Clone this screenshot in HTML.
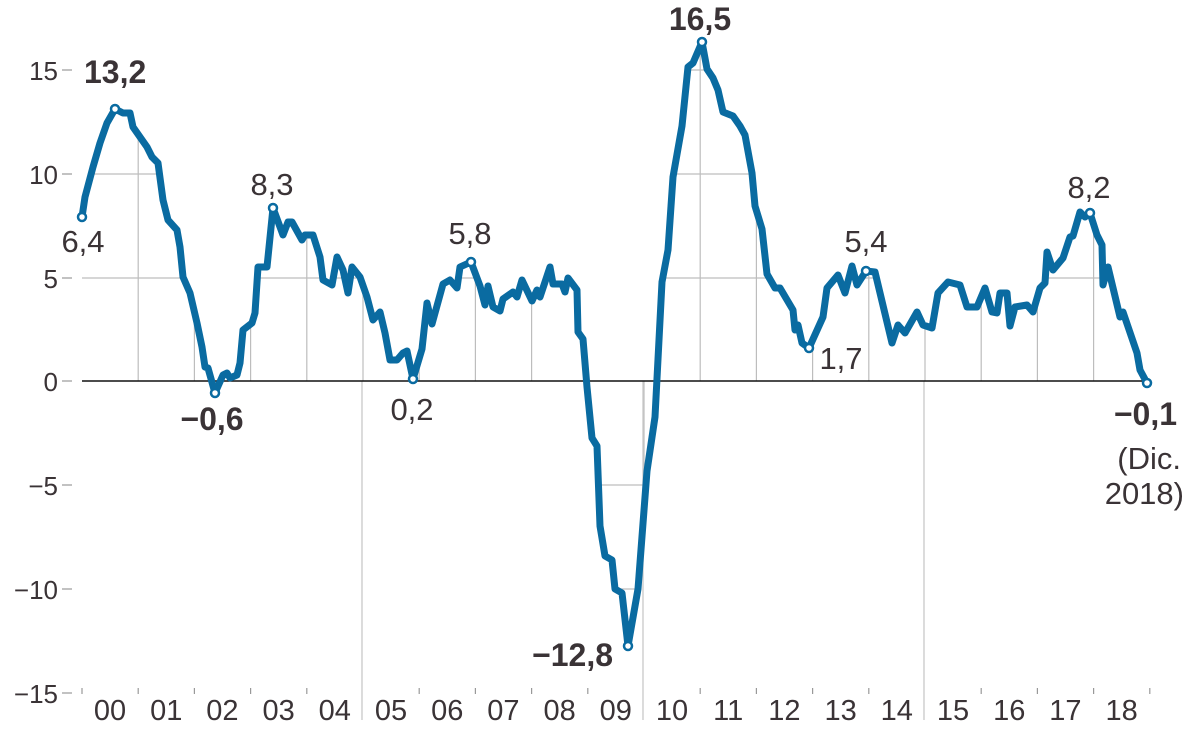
<!DOCTYPE html>
<html><head><meta charset="utf-8"><style>
html,body{margin:0;padding:0;background:#fff;}
svg{display:block;}
text{font-family:"Liberation Sans",sans-serif;fill:#3a3336;}
.b{font-weight:bold;}
</style></head><body>
<svg width="1200" height="731" viewBox="0 0 1200 731" xmlns="http://www.w3.org/2000/svg">
<defs>
<clipPath id="area"><polygon id="ap" points=""/></clipPath>
</defs>
<g id="grid" stroke="#bdbdbd" stroke-width="1.2"></g>
<g stroke="#c8c8c8" stroke-width="1.3">
<line x1="362" y1="381" x2="362" y2="720"/>
<line x1="643" y1="381" x2="643" y2="720"/>
<line x1="924" y1="381" x2="924" y2="720"/>
</g>
<line x1="82" y1="381" x2="1147" y2="381" stroke="#111" stroke-width="1.6"/>
<g stroke="#999" stroke-width="1.2" id="ticks"></g>
<g font-size="26" text-anchor="end">
<text x="58" y="80">15</text>
<text x="58" y="184">10</text>
<text x="58" y="288">5</text>
<text x="58" y="391">0</text>
<text x="58" y="495">−5</text>
<text x="58" y="599">−10</text>
<text x="58" y="703">−15</text>
</g>
<g font-size="29" text-anchor="middle" id="xl"></g>
<polyline id="ln" fill="none" stroke="#0a6ba1" stroke-width="7" stroke-linejoin="round" stroke-linecap="round" points=""/>
<g id="dots" fill="#fff" stroke="#0a6ba1" stroke-width="2.5"></g>
<g font-size="31">
<text x="84" y="83" class="b" font-size="32">13,2</text>
<text x="83" y="252" text-anchor="middle">6,4</text>
<text x="272" y="195" text-anchor="middle">8,3</text>
<text x="212" y="430" text-anchor="middle" class="b" font-size="32">−0,6</text>
<text x="412" y="420" text-anchor="middle">0,2</text>
<text x="470" y="244" text-anchor="middle">5,8</text>
<text x="613" y="666" text-anchor="end" class="b" font-size="32">−12,8</text>
<text x="700" y="30" text-anchor="middle" class="b" font-size="32">16,5</text>
<text x="841" y="369" text-anchor="middle">1,7</text>
<text x="866" y="252" text-anchor="middle">5,4</text>
<text x="1089" y="198" text-anchor="middle">8,2</text>
<text x="1177" y="425" text-anchor="end" class="b" font-size="32">−0,1</text>
<text x="1181" y="469" text-anchor="end">(Dic.</text>
<text x="1184" y="504" text-anchor="end">2018)</text>
</g>
</svg>
<script>
var P=[[82,217],[85,197],[93,167],[100,143],[107,123],[115,109],[123,113],[130,113],[133,127],[147,147],[152,157],[158,163],[163,200],[168,220],[177,230],[180,247],[183,277],[190,293],[197,323],[202,347],[205,367],[208,368],[215,393],[223,375],[227,373],[230,378],[237,375],[240,363],[243,330],[252,323],[255,313],[258,267],[267,267],[273,208],[283,235],[288,222],[292,222],[302,240],[305,235],[313,235],[320,257],[323,280],[332,285],[337,257],[343,270],[348,293],[352,267],[360,277],[367,297],[373,320],[380,312],[385,333],[390,360],[397,360],[403,353],[407,351],[413,379],[422,349],[427,303],[432,324],[443,284],[450,280],[457,288],[460,267],[471,262],[480,286],[485,305],[488,286],[493,307],[500,311],[503,299],[513,292],[517,297],[522,280],[532,301],[537,290],[540,297],[550,267],[553,284],[562,284],[565,292],[568,278],[577,290],[578,332],[583,339],[587,387],[592,438],[597,446],[600,526],[605,556],[612,560],[615,589],[622,593],[628,646],[638,589],[647,471],[655,417],[662,282],[668,250],[673,177],[682,126],[688,67],[693,63],[702,42],[707,69],[713,78],[718,90],[723,112],[733,116],[740,126],[745,135],[752,173],[755,206],[762,229],[767,274],[775,288],[780,288],[793,310],[795,330],[798,325],[802,343],[809,348],[823,317],[827,288],[838,275],[845,293],[852,266],[857,285],[866,271],[875,272],[892,343],[898,325],[905,333],[917,312],[923,325],[932,328],[938,293],[948,282],[952,283],[960,285],[967,307],[977,307],[985,288],[992,312],[997,313],[1000,293],[1007,293],[1010,326],[1015,307],[1027,305],[1033,312],[1040,288],[1045,283],[1047,252],[1053,270],[1063,258],[1070,237],[1073,236],[1080,212],[1085,217],[1090,213],[1097,235],[1102,245],[1103,285],[1108,267],[1120,317],[1123,312],[1137,353],[1140,370],[1147,383]];
var NS="http://www.w3.org/2000/svg";
var s=P.map(function(p){return p.join(",")}).join(" ");
document.getElementById("ln").setAttribute("points",s);
document.getElementById("ap").setAttribute("points","82,381 "+s+" 1147,381");
var g=document.getElementById("grid");g.setAttribute("clip-path","url(#area)");
function L(par,x1,y1,x2,y2){var l=document.createElementNS(NS,"line");l.setAttribute("x1",x1);l.setAttribute("y1",y1);l.setAttribute("x2",x2);l.setAttribute("y2",y2);par.appendChild(l);}
for(var k=1;k<19;k++){var x=82+k*56.2;L(g,x,0,x,720);}
[70,174,278,485,589].forEach(function(y){L(g,82,y,1150,y);});
var t=document.getElementById("ticks");
[70,174,278,381,485,589,693].forEach(function(y){L(t,62,y,72,y);});
for(var k=0;k<20;k++){var x=82+k*56.2;if([5,10,15].indexOf(k)<0)L(t,x,688,x,694);}
var xl=document.getElementById("xl");
for(var k=0;k<19;k++){var tx=document.createElementNS(NS,"text");tx.setAttribute("x",110+k*56.2);tx.setAttribute("y",720);tx.textContent=(k<10?"0":"")+k;xl.appendChild(tx);}
var d=document.getElementById("dots");
[[82,217],[115,109],[215,393],[273,208],[413,379],[471,262],[628,646],[702,42],[809,348],[866,271],[1090,213],[1147,383]].forEach(function(p){var c=document.createElementNS(NS,"circle");c.setAttribute("cx",p[0]);c.setAttribute("cy",p[1]);c.setAttribute("r",4);d.appendChild(c);});
</script>
</body></html>
